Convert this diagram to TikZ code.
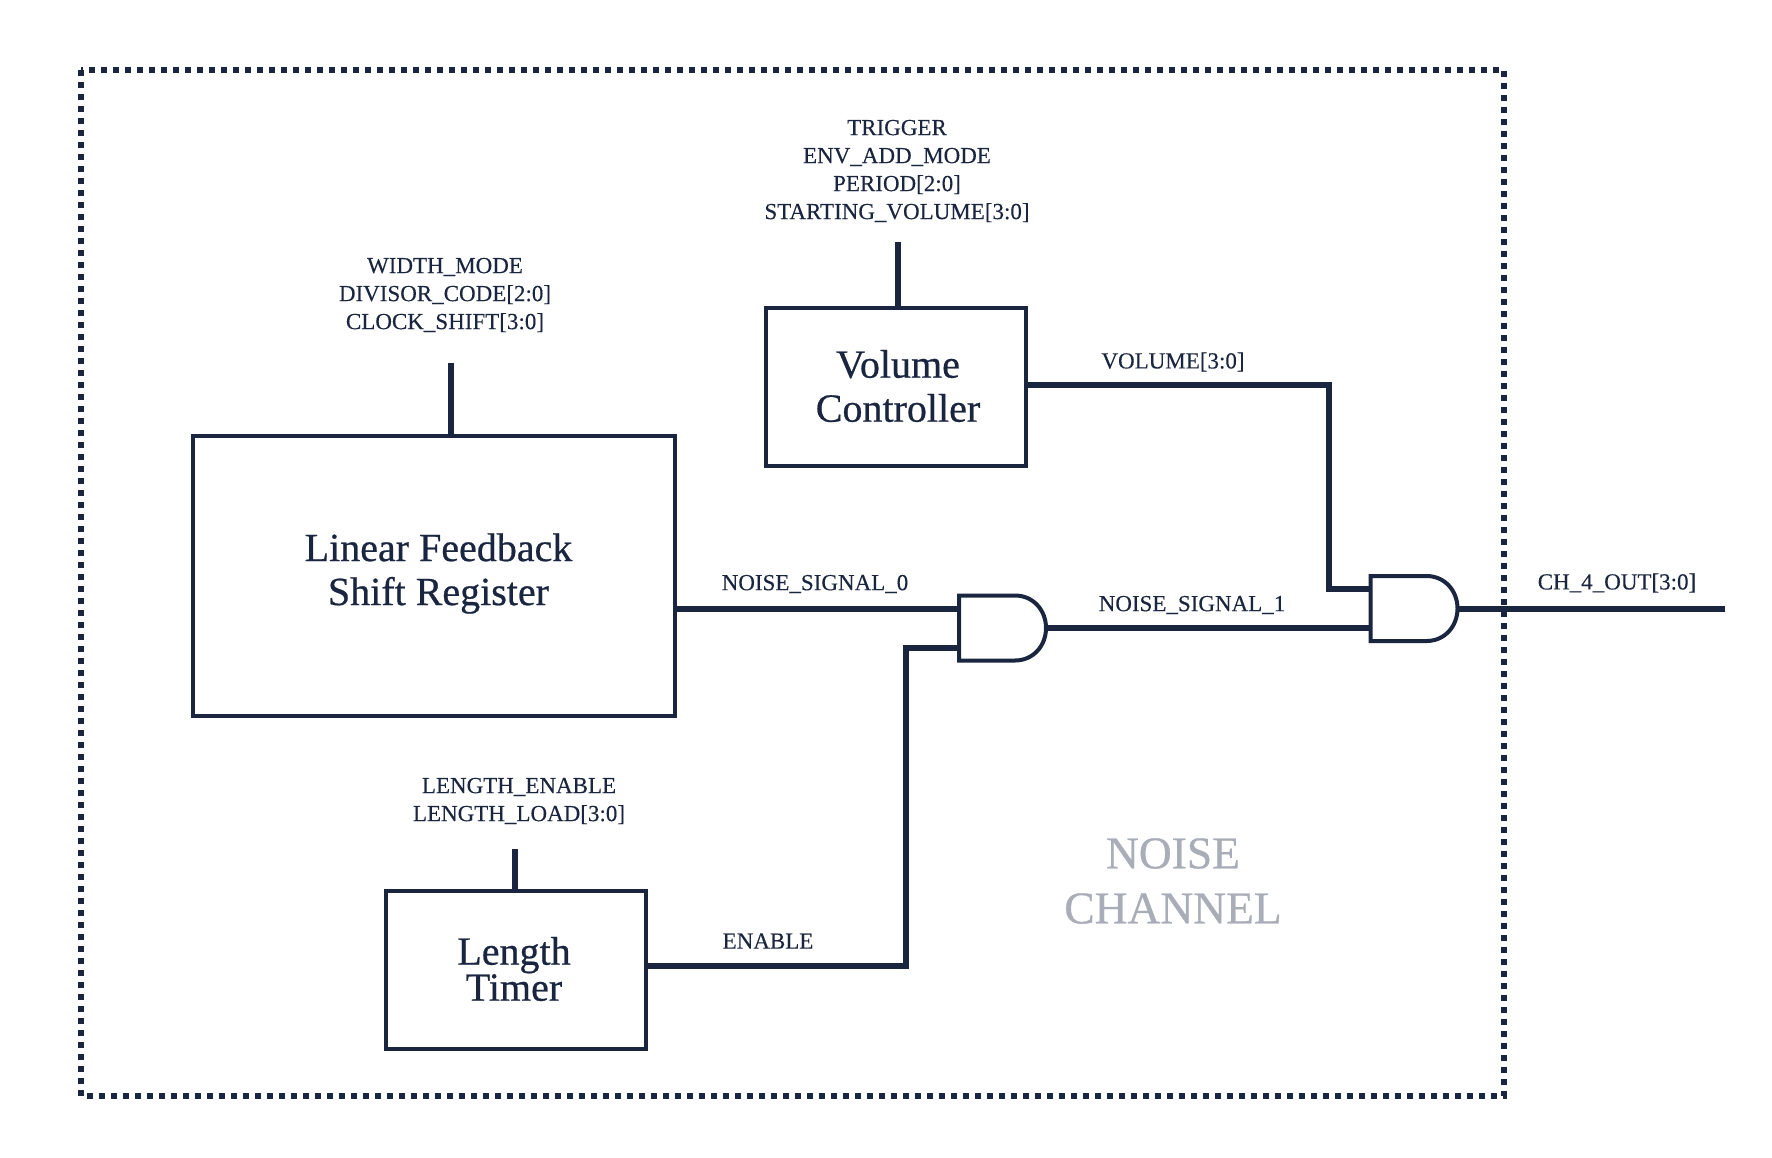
\documentclass[tikz,border=0pt]{standalone}
\usepackage{fontspec}
\setmainfont{Liberation Serif}[FakeBold=0.25]
\newfontfamily\heavyfont{Liberation Serif}[FakeBold=0.6]
\definecolor{inkblue}{HTML}{1A2540}
\definecolor{wmgray}{HTML}{A9ADB8}
\tikzset{
    blockbox/.style={draw=inkblue, line width=4pt, inner sep=0pt},
    blocktext/.style={text=inkblue, align=center, font=\heavyfont\fontsize{40}{44}\selectfont},
    sigtext/.style={text=inkblue, align=center, font=\fontsize{23}{28}\selectfont},
    wire/.style={draw=inkblue, line width=6pt},
    gatebox/.style={minimum width=87pt, minimum height=65pt, inner sep=0pt, outer sep=0pt},
    gateline/.style={draw=inkblue, line width=4pt},
}
% and gate: name, x, y
\newcommand{\andgate}[3]{
    \node[gatebox] (#1) at (#2, #3) {};
    \draw[gateline] (#1.north west) -- ([xshift=-31pt]#1.north east)
        .. controls ([xshift=-13pt]#1.north east) and ([yshift=18pt]#1.east) .. (#1.east)
        .. controls ([yshift=-18pt]#1.east) and ([xshift=-13pt]#1.south east) .. ([xshift=-31pt]#1.south east)
        -- (#1.south west) -- cycle;
    \coordinate (#1-in1) at ([yshift=19.5pt]#1.west);
    \coordinate (#1-in2) at ([yshift=-19.5pt]#1.west);
}
\begin{document}
\begin{tikzpicture}
    \tikzset{x={(1pt, 0pt)}, y={(0pt, -1pt)}}
    \useasboundingbox (0, 0) rectangle (1772, 1157);
    % noise channel border
    \draw[inkblue, line width=6pt, dash pattern=on 6pt off 6pt] (81, 70) rectangle (1504, 1096);
    \node[text=wmgray, align=center, font=\heavyfont\fontsize{45.5}{55}\selectfont] (title) at (1173, 881) {NOISE\\CHANNEL};
    % blocks
    \node[blockbox, minimum width=482pt, minimum height=280pt] (lfsr) at (433.5, 576) {};
    \node[blockbox, minimum width=260pt, minimum height=158pt] (vol) at (895.5, 387) {};
    \node[blockbox, minimum width=260pt, minimum height=158pt] (len) at (515.5, 970) {};
    \node[blocktext] (lfsrname) at (438.5, 573.5) {Linear Feedback\\Shift Register};
    \node[blocktext] (volname) at (898, 386) {Volume\\Controller};
    \node[blocktext, font=\heavyfont\fontsize{40}{36}\selectfont] (lenname) at (514, 969) {Length\\Timer};
    % gates
    \andgate{gatea}{1002.5}{628}
    \andgate{gateb}{1414}{608.5}
    % input signals
    \node[sigtext] (lfsrin) at (445, 295) {WIDTH\_MODE\\DIVISOR\_CODE[2:0]\\CLOCK\_SHIFT[3:0]};
    \node[sigtext] (volin) at (897, 171) {TRIGGER\\ENV\_ADD\_MODE\\PERIOD[2:0]\\STARTING\_VOLUME[3:0]};
    \node[sigtext] (lenin) at (519, 801) {LENGTH\_ENABLE\\LENGTH\_LOAD[3:0]};
    \coordinate (lfsrstub) at (451, 363);
    \coordinate (volstub) at (898, 242);
    \coordinate (lenstub) at (515, 849);
    \draw[wire] (lfsrstub) -- (lfsrstub |- lfsr.north);
    \draw[wire] (volstub) -- (volstub |- vol.north);
    \draw[wire] (lenstub) -- (lenstub |- len.north);
    % wires
    \coordinate (lencorner) at (906, 966);
    \coordinate (volcorner) at (1329, 385);
    \coordinate (chout) at (1725, 608.5);
    \draw[wire] (lfsr.east |- gatea-in1) -- (gatea-in1);
    \draw[wire] (len.east |- lencorner) -- (lencorner) -- (lencorner |- gatea-in2) -- (gatea-in2);
    \draw[wire] (vol.east |- volcorner) -- (volcorner) -- (volcorner |- gateb-in1) -- (gateb-in1);
    \draw[wire] (gatea.east) -- (gateb-in2);
    \draw[wire] (gateb.east) -- (chout);
    % wire labels
    \node[sigtext] (lfsrout) at (815, 584) {NOISE\_SIGNAL\_0};
    \node[sigtext] (gateout) at (1192, 605) {NOISE\_SIGNAL\_1};
    \node[sigtext] (volout) at (1173, 362) {VOLUME[3:0]};
    \node[sigtext] (lenout) at (768, 941) {ENABLE};
    \node[sigtext] (chname) at (1617, 583) {CH\_4\_OUT[3:0]};
\end{tikzpicture}
\end{document}
